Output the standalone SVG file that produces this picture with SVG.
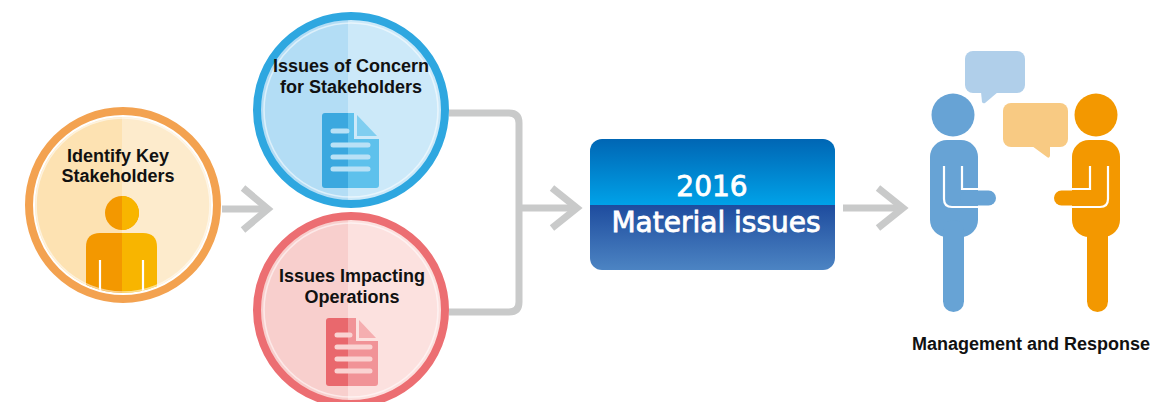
<svg xmlns="http://www.w3.org/2000/svg" width="1174" height="402" viewBox="0 0 1174 402">
<defs>
<style>
.lbl{font-family:"Liberation Sans",Arial,sans-serif;font-weight:bold;font-size:18px;fill:#111;text-anchor:middle}
.box{font-family:"DejaVu Sans",sans-serif;font-size:28px;fill:#fff;stroke:#fff;stroke-width:0.8;text-anchor:middle}
.conn{fill:none;stroke:#C9CACA;stroke-width:7}
.ring{fill:none;stroke:#fff;stroke-opacity:0.55;stroke-width:1.6}
.wl{fill:none;stroke:#fff;stroke-width:2.2}
</style>
<linearGradient id="gTop" x1="0" y1="0" x2="0" y2="1">
<stop offset="0" stop-color="#0066B4"/><stop offset="1" stop-color="#00A2E8"/>
</linearGradient>
<linearGradient id="gBot" x1="0" y1="0" x2="0" y2="1">
<stop offset="0" stop-color="#1E4C9E"/><stop offset="1" stop-color="#4C84C3"/>
</linearGradient>
<clipPath id="cO"><circle cx="123" cy="205" r="88"/></clipPath>
<clipPath id="cB"><circle cx="351" cy="110" r="94"/></clipPath>
<clipPath id="cR"><circle cx="351" cy="310" r="94"/></clipPath>
<clipPath id="cBox"><rect x="590" y="139" width="245" height="131" rx="12"/></clipPath>
</defs>
<rect width="1174" height="402" fill="#fff"/>

<g id="connectors">
<path class="conn" d="M222,209 H268"/>
<path class="conn" d="M243,188 L268,209 L243,230"/>
<path class="conn" d="M449,113 H509 Q519,113 519,123 V302 Q519,312 509,312 H449"/>
<path class="conn" d="M519,208 H577"/>
<path class="conn" d="M552,188 L577,208 L552,228"/>
<path class="conn" d="M843,208 H903"/>
<path class="conn" d="M878,188 L903,208 L878,228"/>
</g>

<g id="node-identify">
<g clip-path="url(#cO)">
<rect x="25" y="105" width="97" height="200" fill="#FDE2B2"/>
<rect x="122" y="105" width="100" height="200" fill="#FDEBCC"/>
<circle cx="122" cy="213" r="17" fill="#F39800"/>
<path d="M122,196 A17,17 0 0 1 122,230 Z" fill="#F8B500"/>
<path d="M122,233 H100 Q86,233 86,247 V300 H122 Z" fill="#F39800"/>
<path d="M122,233 H143 Q157,233 157,247 V300 H122 Z" fill="#F8B500"/>
<path class="wl" d="M100,260 V300 M143,260 V300"/>
</g>
<circle class="ring" cx="123" cy="205" r="87"/>
<circle cx="123" cy="205" r="94" fill="none" stroke="#F3A250" stroke-width="8"/>
<text class="lbl" x="118" y="162">Identify Key</text>
<text class="lbl" x="118" y="182">Stakeholders</text>
</g>

<g id="node-concern">
<g clip-path="url(#cB)">
<rect x="253" y="12" width="95" height="200" fill="#B3DDF5"/>
<rect x="348" y="12" width="102" height="200" fill="#CCE9F9"/>
</g>
<circle class="ring" cx="351" cy="110" r="87"/>
<circle cx="351" cy="110" r="94" fill="none" stroke="#2EA7E0" stroke-width="8"/>
<path d="M348,113 H325 Q322,113 322,116 V185 Q322,188 325,188 H348 Z" fill="#3BA8DF"/>
<path d="M348,113 H354 V139 H379 V185 Q379,188 376,188 H348 Z" fill="#5EC1EC"/>
<path d="M357,115 L377,136 H357 Z" fill="#80CEF0"/>
<path d="M333,131 H347 M333,145 H368 M333,157 H368 M333,169 H368" fill="none" stroke="#B9E1F6" stroke-width="5" stroke-linecap="round"/>
<text class="lbl" x="351" y="72">Issues of Concern</text>
<text class="lbl" x="351" y="93">for Stakeholders</text>
</g>

<g id="node-operations">
<g clip-path="url(#cR)">
<rect x="253" y="212" width="95" height="200" fill="#F8CFCD"/>
<rect x="348" y="212" width="102" height="200" fill="#FCE1DF"/>
</g>
<circle class="ring" cx="351" cy="310" r="87"/>
<circle cx="351" cy="310" r="94" fill="none" stroke="#EC6E72" stroke-width="8"/>
<path d="M348,318 H329 Q326,318 326,321 V383 Q326,386 329,386 H348 Z" fill="#E9686D"/>
<path d="M348,318 H356 V341 H378 V383 Q378,386 375,386 H348 Z" fill="#F19397"/>
<path d="M359,320 L376,338 H359 Z" fill="#F5AEB0"/>
<path d="M337,335 H350 M337,347 H370 M337,359 H370 M337,371 H370" fill="none" stroke="#FAD3D2" stroke-width="5" stroke-linecap="round"/>
<text class="lbl" x="352" y="282">Issues Impacting</text>
<text class="lbl" x="352" y="303">Operations</text>
</g>

<g id="node-material">
<g clip-path="url(#cBox)">
<rect x="590" y="139" width="245" height="66" fill="url(#gTop)"/>
<rect x="590" y="205" width="245" height="65" fill="url(#gBot)"/>
</g>
<text class="box" x="712" y="196">2016</text>
<text class="box" x="716" y="232">Material issues</text>
</g>

<g id="node-management">
<rect x="965" y="51" width="60" height="42" rx="8" fill="#B0CFEA"/>
<path d="M981,92 H998 L985,103 Q983,104 982,102 Z" fill="#B0CFEA"/>
<rect x="1003" y="103" width="65" height="44" rx="8" fill="#F8CA83"/>
<path d="M1032,146 H1050 V156 Q1049,159 1047,157 Z" fill="#F8CA83"/>
<g fill="#67A3D5">
<circle cx="953" cy="115" r="21.5"/>
<rect x="930" y="140" width="48" height="97" rx="17"/>
<rect x="943" y="220" width="21" height="92" rx="10.5"/>
<rect x="960" y="190.5" width="36" height="15" rx="7.5"/>
</g>
<path class="wl" d="M944,166 V199 Q944,207 952,207 H978 M962,166 V189 H978"/>
<g fill="#F39800">
<circle cx="1096" cy="115" r="21.5"/>
<rect x="1072" y="140" width="48" height="97" rx="17"/>
<rect x="1087" y="220" width="21" height="92" rx="10.5"/>
<rect x="1054" y="190.5" width="36" height="15" rx="7.5"/>
</g>
<path class="wl" d="M1108,166 V199 Q1108,207 1100,207 H1072 M1090,166 V189 H1072"/>
<text class="lbl" x="1031" y="350">Management and Response</text>
</g>
</svg>
